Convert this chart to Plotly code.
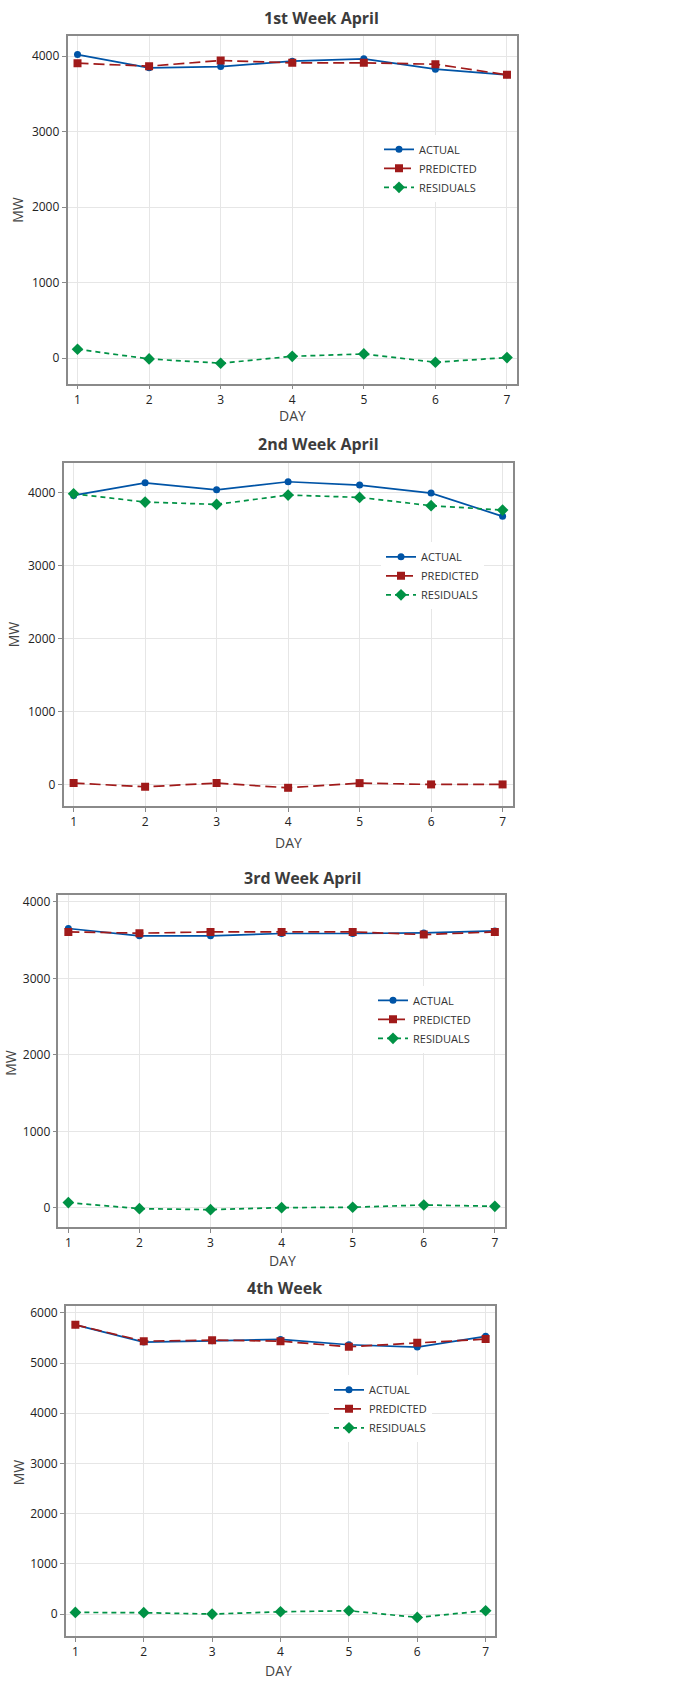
import plotly.graph_objects as go

# ---------------- data ----------------
days = [1, 2, 3, 4, 5, 6, 7]
series_names = ["ACTUAL", "PREDICTED", "RESIDUALS"]
panel_titles = ["1st Week April", "2nd Week April", "3rd Week April", "4th Week"]

w1_actual = [4022, 3846, 3863, 3934, 3965, 3828, 3753]
w1_predicted = [3907, 3868, 3943, 3912, 3912, 3894, 3753]
w1_residuals = [119, -9, -66, 26, 57, -53, 9]

w2_actual = [3959, 4132, 4036, 4146, 4100, 3991, 3672]
w2_predicted = [18, -32, 18, -46, 18, 0, 0]
w2_residuals = [3982, 3868, 3836, 3964, 3932, 3818, 3758]

w3_actual = [3652, 3556, 3556, 3587, 3587, 3595, 3621]
w3_predicted = [3608, 3591, 3608, 3608, 3608, 3573, 3608]
w3_residuals = [70, -9, -22, 4, 9, 39, 22]

w4_actual = [5761, 5417, 5443, 5470, 5364, 5318, 5531]
w4_predicted = [5761, 5436, 5456, 5436, 5324, 5404, 5477]
w4_residuals = [33, 27, 0, 46, 66, -66, 66]

y_ticks_1 = [0, 1000, 2000, 3000, 4000]
y_ticks_4 = [0, 1000, 2000, 3000, 4000, 5000, 6000]

# ---------------- layout helpers ----------------
W, H = 674, 1683
FONT = "Open Sans"

def px_x(p):
    return p / W

def px_y(p):
    return 1 - p / H

panels = [
    dict(data=(w1_actual, w1_predicted, w1_residuals), box=(67.5, 517, 34, 382),
         yrange=[-335, 4268], yticks=y_ticks_1, title_xy=(321, 16),
         mw_xy=(18, 208), day_xy=(292, 414), legend_xy=(379, 133)),
    dict(data=(w2_actual, w2_predicted, w2_residuals), box=(63.6, 512.6, 461.7, 805),
         yrange=[-296, 4401], yticks=y_ticks_1, title_xy=(318, 443),
         mw_xy=(13, 633), day_xy=(288, 842), legend_xy=(381, 541)),
    dict(data=(w3_actual, w3_predicted, w3_residuals), box=(58.4, 504.8, 894.3, 1226.7),
         yrange=[-252, 4087], yticks=y_ticks_1, title_xy=(302, 877),
         mw_xy=(11, 1062), day_xy=(282, 1260), legend_xy=(373, 985)),
    dict(data=(w4_actual, w4_predicted, w4_residuals), box=(65.8, 495.2, 1305.7, 1636),
         yrange=[-438, 6133], yticks=y_ticks_4, title_xy=(284, 1288),
         mw_xy=(18, 1472), day_xy=(278, 1670), legend_xy=(329, 1375)),
]

colors = ["#0054A6", "#A01A1A", "#009245"]
symbols = ["circle", "square", "diamond"]
dash_patterns = ["solid", "11px,5px", "5px,4px"]
marker_sizes = [7, 8, 9]

fig = go.Figure()
layout = dict(
    width=W, height=H, margin=dict(l=0, r=0, t=0, b=0),
    paper_bgcolor="white", plot_bgcolor="white",
    font=dict(family=FONT, color="#333333", size=12),
    annotations=[],
)

for i, p in enumerate(panels):
    k = "" if i == 0 else str(i + 1)
    xa, ya = "x" + k, "y" + k
    leg = "legend" + k
    for j in range(3):
        fig.add_trace(go.Scatter(
            x=days, y=p["data"][j], name=series_names[j], mode="lines+markers",
            xaxis=xa, yaxis=ya, legend=leg,
            line=dict(color=colors[j], width=1.7, dash=dash_patterns[j]),
            marker=dict(symbol=symbols[j], size=marker_sizes[j], color=colors[j]),
        ))
    l, r, t, b = p["box"]
    layout["xaxis" + k] = dict(
        domain=[px_x(l), px_x(r)], anchor=ya, range=[0.86, 7.14],
        tickvals=days, ticktext=[str(d) for d in days],
        showgrid=True, gridcolor="#e6e6e6", gridwidth=1,
        showline=True, linecolor="#8a8a8a", linewidth=1.5, mirror=True,
        ticks="outside", ticklen=4, tickcolor="#8a8a8a",
        tickfont=dict(size=12, color="#222222"), zeroline=False,
    )
    layout["yaxis" + k] = dict(
        domain=[px_y(b), px_y(t)], anchor=xa, range=p["yrange"],
        tickvals=p["yticks"], ticktext=[str(v) for v in p["yticks"]],
        showgrid=True, gridcolor="#e6e6e6", gridwidth=1,
        showline=True, linecolor="#8a8a8a", linewidth=1.5, mirror=True,
        ticks="outside", ticklen=4, tickcolor="#8a8a8a",
        tickfont=dict(size=12, color="#222222"), zeroline=False,
    )
    lx, ly = p["legend_xy"]
    layout[leg] = dict(
        x=px_x(lx), y=px_y(ly), xanchor="left", yanchor="top",
        xref="paper", yref="paper",
        bgcolor="white", borderwidth=0,
        font=dict(size=11, color="#333333", family=FONT),
        tracegroupgap=0,
    )
    tx, ty = p["title_xy"]
    layout["annotations"].append(dict(
        text="<b>" + panel_titles[i] + "</b>", x=px_x(tx), y=px_y(ty),
        xref="paper", yref="paper", showarrow=False, xanchor="center", yanchor="middle",
        font=dict(size=16, color="#3c3c3c", family=FONT),
    ))
    mx, my = p["mw_xy"]
    layout["annotations"].append(dict(
        text="MW", x=px_x(mx), y=px_y(my), xref="paper", yref="paper",
        showarrow=False, textangle=-90, xanchor="center", yanchor="middle",
        font=dict(size=14, color="#444444", family=FONT),
    ))
    dx, dy = p["day_xy"]
    layout["annotations"].append(dict(
        text="DAY", x=px_x(dx), y=px_y(dy), xref="paper", yref="paper",
        showarrow=False, xanchor="center", yanchor="middle",
        font=dict(size=14, color="#444444", family=FONT),
    ))

fig.update_layout(**layout)
fig.write_html(
    "out.html",
    config={"displayModeBar": False},
    post_script="document.body.style.margin='0';document.body.style.padding='0';",
)
